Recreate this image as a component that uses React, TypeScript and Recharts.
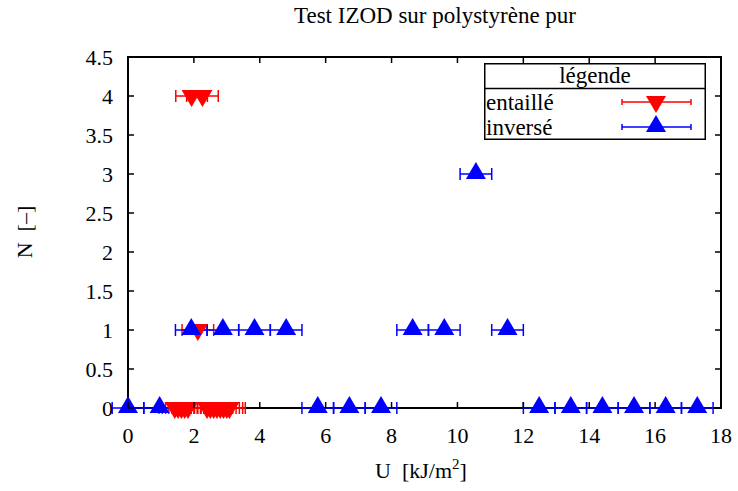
import React from 'react';
import { ScatterChart, Scatter, XAxis, YAxis, ErrorBar, ReferenceArea, Legend } from 'recharts';

// histogram bins
const entailleU = [1.42, 1.52, 1.62, 1.72, 1.82, 1.93, 2.12, 2.26, 2.4, 2.5, 2.6, 2.7, 2.8, 2.9, 3.0, 3.08];
const entailleN = [0, 0, 0, 0, 0, 4, 1, 4, 0, 0, 0, 0, 0, 0, 0, 0];
const inverseU = [0, 0.96, 1.92, 2.88, 3.84, 4.8, 5.76, 6.72, 7.68, 8.64, 9.6, 10.56, 11.52, 12.48, 13.44, 14.4, 15.36, 16.32, 17.28];
const inverseN = [0, 0, 1, 1, 1, 1, 0, 0, 0, 1, 1, 3, 1, 0, 0, 0, 0, 0, 0];
const halfBin = 0.48;

const xTicks = [0, 2, 4, 6, 8, 10, 12, 14, 16, 18];
const yTicks = [0, 0.5, 1, 1.5, 2, 2.5, 3, 3.5, 4, 4.5];

const entaille = entailleU.map((u, i) => ({ x: u, y: entailleN[i], ex: halfBin }));
const inverse = inverseU.map((u, i) => ({ x: u, y: inverseN[i], ex: halfBin }));

const RED = '#ff0000';
const BLUE = '#0000ff';
const FONT = "'Liberation Serif', 'Times New Roman', Times, serif";

const W = 738;
const H = 491;
const TOP = 57;
const BOTTOM = 408;
const LEFT = 128;
const RIGHT = 721;
const X_MAX = 18;
// the error bars pull the x domain down to -halfBin, so the plot area starts a bit left of the frame
const k = halfBin / (X_MAX + halfBin);
const AREA_LEFT = (LEFT - RIGHT * k) / (1 - k);

const DownTri = ({ cx, cy, fill }: any) => (
  <polygon points={`${cx - 10},${cy - 6} ${cx + 10},${cy - 6} ${cx},${cy + 11}`} fill={fill} />
);
const UpTri = ({ cx, cy, fill }: any) => (
  <polygon points={`${cx - 10},${cy + 5} ${cx + 10},${cy + 5} ${cx},${cy - 12}`} fill={fill} />
);

const XTick = ({ x, payload }: any) => (
  <g>
    <line x1={x} x2={x} y1={BOTTOM} y2={BOTTOM - 6} stroke="#000" strokeWidth={1.5} />
    <line x1={x} x2={x} y1={TOP} y2={TOP + 6} stroke="#000" strokeWidth={1.5} />
    <text x={x} y={BOTTOM + 35} textAnchor="middle" fontSize={22} fontFamily={FONT} fill="#000">
      {payload.value}
    </text>
  </g>
);

const YTick = ({ y, payload }: any) => (
  <g>
    <line x1={LEFT} x2={LEFT + 6} y1={y} y2={y} stroke="#000" strokeWidth={1.5} />
    <line x1={RIGHT} x2={RIGHT - 6} y1={y} y2={y} stroke="#000" strokeWidth={1.5} />
    <text x={LEFT - 15} y={y + 8} textAnchor="end" fontSize={22} fontFamily={FONT} fill="#000">
      {payload.value}
    </text>
  </g>
);

const LegendBox = ({ payload }: any) => (
  <svg width={222} height={77} style={{ display: 'block' }}>
    <rect x={0.75} y={0.75} width={220.5} height={75.5} fill="#fff" stroke="#000" strokeWidth={1.5} />
    <text x={111} y={20} textAnchor="middle" fontSize={23} fontFamily={FONT}>légende</text>
    <line x1={0} x2={222} y1={25.5} y2={25.5} stroke="#000" strokeWidth={1.5} />
    {(payload || []).map((p: any, i: number) => {
      const cy = 39 + i * 25;
      const Mark = i === 0 ? DownTri : UpTri;
      return (
        <g key={p.value}>
          <text x={2} y={cy + 8} fontSize={23} fontFamily={FONT}>{p.value}</text>
          <line x1={138} x2={207} y1={cy} y2={cy} stroke={p.color} strokeWidth={1.5} />
          <line x1={138} x2={138} y1={cy - 3} y2={cy + 3} stroke={p.color} strokeWidth={1.5} />
          <line x1={207} x2={207} y1={cy - 3} y2={cy + 3} stroke={p.color} strokeWidth={1.5} />
          <Mark cx={172} cy={cy} fill={p.color} />
        </g>
      );
    })}
  </svg>
);

export default function App() {
  return (
    <div style={{ position: 'absolute', left: 0, top: 0, width: W, height: H, background: '#fff', fontFamily: FONT }}>
      <div style={{ position: 'absolute', left: 435 - 200, width: 400, top: 3, textAlign: 'center', fontSize: 23 }}>
        Test IZOD sur polystyrène pur
      </div>
      <ScatterChart width={W} height={H} margin={{ top: TOP, right: W - RIGHT, bottom: 0, left: 0 }}>
        <XAxis
          type="number"
          dataKey="x"
          domain={[0, X_MAX]}
          ticks={xTicks}
          height={H - BOTTOM}
          tickLine={false}
          axisLine={false}
          tick={<XTick />}
          label={{
            content: () => (
              <text x={421} y={478} textAnchor="middle" fontSize={22} fontFamily={FONT}>
                {'U\u00a0\u00a0[kJ/m'}<tspan dy={-9} fontSize={15}>2</tspan><tspan dy={9}>]</tspan>
              </text>
            ),
          }}
        />
        <YAxis
          type="number"
          dataKey="y"
          domain={[0, 4.5]}
          ticks={yTicks}
          width={AREA_LEFT}
          tickLine={false}
          axisLine={false}
          tick={<YTick />}
          label={{
            content: () => (
              <text x={24} y={232} textAnchor="middle" dominantBaseline="central" fontSize={22} fontFamily={FONT} transform="rotate(-90 24 232)">
                {'N\u00a0\u00a0[–]'}
              </text>
            ),
          }}
        />
        <Legend
          layout="vertical"
          align="center"
          verticalAlign="middle"
          wrapperStyle={{ left: 484, top: 63, width: 222, height: 77 }}
          content={<LegendBox />}
        />
        <Scatter name="entaillé" data={entaille} fill={RED} isAnimationActive={false} shape={(p: any) => <DownTri cx={p.cx} cy={p.cy} fill={RED} />}>
          <ErrorBar dataKey="ex" direction="x" width={6} stroke={RED} strokeWidth={1.5} />
        </Scatter>
        <Scatter name="inversé" data={inverse} fill={BLUE} isAnimationActive={false} shape={(p: any) => <UpTri cx={p.cx} cy={p.cy} fill={BLUE} />}>
          <ErrorBar dataKey="ex" direction="x" width={6} stroke={BLUE} strokeWidth={1.5} />
        </Scatter>
        <ReferenceArea x1={0} x2={X_MAX} y1={0} y2={4.5} fill="none" stroke="#000" strokeWidth={2} />
      </ScatterChart>
    </div>
  );
}
